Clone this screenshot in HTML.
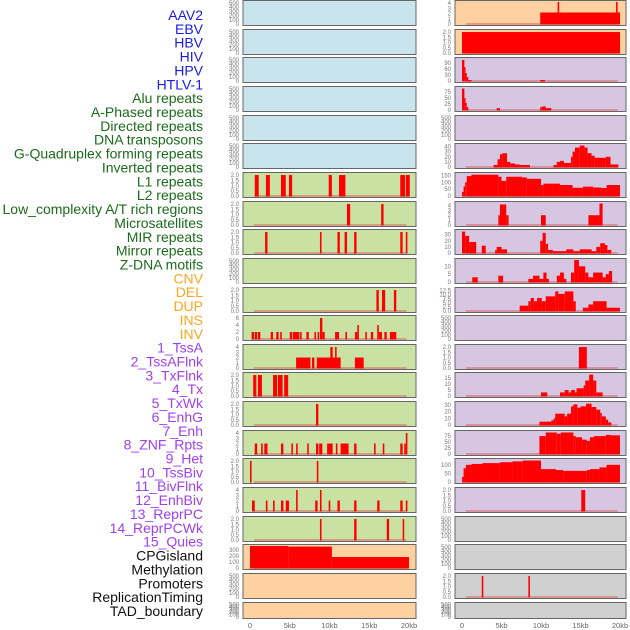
<!DOCTYPE html>
<html><head><meta charset="utf-8">
<style>
html,body{margin:0;padding:0;background:#fff;}
svg{display:block;}
.lab{font-family:"Liberation Sans",sans-serif;font-size:14px;}
.tk{font-family:"Liberation Sans",sans-serif;font-size:6px;fill:#777;}
.xt{font-family:"Liberation Sans",sans-serif;font-size:7.5px;fill:#666;}
</style></head>
<body>
<svg id="chart" width="630" height="630" viewBox="0 0 630 630" xmlns="http://www.w3.org/2000/svg"></svg>
<script>
// ---- data ----
const trackLabels = ["AAV2","EBV","HBV","HIV","HPV","HTLV-1","Alu repeats","A-Phased repeats","Directed repeats","DNA transposons","G-Quadruplex forming repeats","Inverted repeats","L1 repeats","L2 repeats","Low_complexity A/T rich regions","Microsatellites","MIR repeats","Mirror repeats","Z-DNA motifs","CNV","DEL","DUP","INS","INV","1_TssA","2_TssAFlnk","3_TxFlnk","4_Tx","5_TxWk","6_EnhG","7_Enh","8_ZNF_Rpts","9_Het","10_TssBiv","11_BivFlnk","12_EnhBiv","13_ReprPC","14_ReprPCWk","15_Quies","CPGisland","Methylation","Promoters","ReplicationTiming","TAD_boundary"];
const labelGroups = [6,13,5,15,5];
const xTickValues = [0,5,10,15,20];
const xTickLabels = ["0","5kb","10kb","15kb","20kb"];
// left column: ymax, tick values, segments [startKb,endKb,value]
const leftMax = [520,520,520,520,520,520,2.1,2.1,2.1,520,2.1,6.3,4.2,2.1,2.1,4.2,2.1,4.2,2.1,370,520,520];
const leftTicks = [
 [0,100,200,300,400,500],[0,100,200,300,400,500],[0,100,200,300,400,500],[0,100,200,300,400,500],[0,100,200,300,400,500],[0,100,200,300,400,500],
 [0,0.5,1,1.5,2],[0,0.5,1,1.5,2],[0,0.5,1,1.5,2],[0,100,200,300,400,500],[0,0.5,1,1.5,2],[0,2,4,6],[0,1,2,3,4],[0,0.5,1,1.5,2],[0,0.5,1,1.5,2],[0,1,2,3,4],[0,0.5,1,1.5,2],[0,1,2,3,4],[0,0.5,1,1.5,2],[0,100,200,300],[0,100,200,300,400,500],[0,100,200,300,400,500]];
const leftSegs = [
 [],[],[],[],[],[],
 [[0.6,1.1,2],[2.0,2.5,2],[3.9,4.5,2],[4.9,5.3,2],[9.9,10.3,2],[11.2,12.0,2],[18.9,19.5,2],[19.6,20.1,2]],
 [[12.2,12.6,2],[16.5,16.8,2]],
 [[1.9,2.2,2],[8.8,9.0,2],[11.0,11.3,2],[11.9,12.2,2],[13.1,13.4,2],[18.9,19.2,2],[19.6,19.8,2]],
 [],
 [[15.9,16.2,2],[16.6,17.0,2],[18.1,18.4,2]],
 [[0.2,0.5,2],[0.6,0.9,2],[1.0,1.3,2],[2.6,2.9,2],[3.3,3.6,2],[3.8,4.0,2],[5.0,5.3,2],[5.4,6.2,2],[6.3,6.5,2],[7.1,7.4,2],[8.1,8.3,2],[8.5,8.7,2],[8.8,9.1,6],[9.1,9.4,2],[10.7,11.2,2],[12.0,12.2,2],[13.2,13.5,2],[13.5,13.7,4],[14.5,14.7,2],[15.2,15.5,2],[16.0,16.2,4],[16.2,16.6,2],[16.9,17.2,2],[17.6,18.4,2]],
 [[5.8,7.6,2],[7.8,8.1,2],[8.4,11.4,2],[10.1,10.4,4],[10.7,10.9,4],[13.2,14.3,2]],
 [[0.4,0.8,2],[1.0,1.5,2],[2.9,3.4,2],[3.5,4.1,2],[4.3,4.8,2]],
 [[8.3,8.6,2]],
 [[0.6,0.9,2],[1.4,1.6,2],[1.8,2.2,2],[3.9,4.2,2],[5.2,5.4,2],[5.8,6.0,2],[7.2,7.4,2],[8.3,8.6,2],[8.7,9.1,2],[9.7,10.4,2],[10.8,11.0,2],[11.4,12.4,2],[13.1,13.4,2],[15.6,15.8,2],[16.7,16.9,2],[18.9,19.2,2],[19.4,19.6,2],[19.6,19.8,4]],
 [[0.0,0.2,2],[8.4,8.6,2]],
 [[0.25,0.6,2],[2.0,2.2,2],[2.9,3.1,2],[3.9,4.2,2],[4.5,4.9,2],[5.8,6.0,4],[8.2,8.5,2],[8.8,9.0,4],[9.9,10.1,2],[11.0,11.3,2],[13.1,13.4,2],[16.0,16.3,2],[18.9,19.2,2],[19.6,19.8,2]],
 [[8.8,9.0,2],[13.1,13.4,2],[17.2,17.5,2],[19.2,19.4,2]],
 [[0,4.8,370],[4.8,10.3,360],[10.3,20.0,185]],
 [],[]];
// right column
const rightMax = [4.2,2.1,110,92,520,43,160,4.5,36,14,13.5,520,2.1,18.5,33,92,128,2.1,520,520,2.1,520];
const rightTicks = [
 [0,1,2,3,4],[0,0.5,1,1.5,2],[0,30,60,90],[0,25,50,75],[0,100,200,300,400,500],[0,10,20,30,40],[0,50,100,150],[0,1,2,3,4],[0,10,20,30],[0,5,10],[0,2.5,5,7.5,10,12.5],[0,100,200,300,400,500],
 [0,0.5,1,1.5,2],[0,5,10,15],[0,10,20,30],[0,25,50,75],[0,50,100],[0,0.5,1,1.5,2],[0,100,200,300,400,500],[0,100,200,300,400,500],[0,0.5,1,1.5,2],[0,100,200,300,400,500]];
const rightSegs = [
 [[9.9,20,2.2],[12.1,12.3,4.2],[19.5,19.7,4.2]],
 [[0,20,2]],
 [[0,0.3,105],[0.3,0.4,70],[0.4,0.6,40],[0.6,0.8,20],[0.8,1.2,5],[9.9,10.5,5]],
 [[0,0.3,90],[0.3,0.4,50],[0.4,0.6,30],[0.6,0.8,12],[4.4,4.8,8],[9.9,10.1,12],[10.1,10.6,15],[10.6,11.3,8]],
 [],
 [[4.0,4.5,4],[4.5,4.8,15],[4.8,5.1,25],[5.1,5.7,27],[5.7,6.1,10],[6.1,6.7,7],[6.7,7.3,5],[7.3,8.6,4],[11.6,12.0,4],[12.0,12.4,10],[12.4,12.9,12],[12.9,13.8,8],[13.8,14.0,20],[14.0,14.3,30],[14.3,14.9,38],[14.9,15.5,42],[15.5,15.9,38],[15.9,16.4,27],[16.4,16.8,22],[16.8,18.2,18],[18.2,18.8,20],[18.8,19.8,5]],
 [[0,0.2,30],[0.2,0.4,70],[0.4,0.6,100],[0.6,1.2,145],[1.2,4.6,155],[4.6,5.0,140],[5.0,5.6,110],[5.6,7.6,140],[7.6,8.2,135],[8.2,10.0,125],[10.0,10.3,80],[10.3,12.4,90],[12.4,14.0,80],[14.0,15.3,60],[15.3,16.6,68],[16.6,17.6,62],[17.6,18.3,58],[18.3,20,80]],
 [[4.6,4.8,2],[4.8,5.6,4.2],[5.6,5.9,2],[10.0,10.6,2],[16.0,17.4,2],[17.4,17.8,4.4]],
 [[0,0.4,35],[0.4,0.9,28],[0.9,1.8,18],[2.5,3.0,12],[4.2,4.4,5],[4.4,5.0,10],[5.0,5.7,6],[9.9,10.2,20],[10.2,10.6,33],[10.6,10.9,15],[10.9,11.5,5],[11.5,13.2,3],[13.2,14.1,6],[14.1,14.9,3],[14.9,16.4,6],[16.4,17.0,3],[17.0,17.5,10],[17.5,18.1,16],[18.1,18.4,13],[18.4,18.9,5]],
 [[1.3,2.0,3],[4.6,5.2,4],[8.4,9.0,2],[9.0,9.8,4],[9.8,10.3,2],[10.3,10.7,6],[10.7,11.0,2],[12.0,12.4,4],[12.4,12.9,6],[12.9,13.2,2],[13.8,14.2,6],[14.2,14.8,14],[14.8,15.6,10],[15.6,16.0,6],[16.0,16.6,3],[16.6,17.8,6],[17.8,18.2,3],[18.2,18.6,5],[18.6,19.0,7]],
 [[7.3,8.4,3.3],[8.4,8.7,6],[8.7,9.1,8],[9.1,9.5,6],[9.5,10.1,8],[10.1,10.6,6],[10.6,11.8,9],[11.8,12.2,12],[12.2,13.0,10.5],[13.0,14.1,12],[14.1,14.4,6],[15.3,16.0,2],[16.0,16.6,4],[16.6,18.3,6],[18.3,20,2]],
 [],
 [[14.8,15.8,2]],
 [[10.0,10.8,3],[12.4,13.0,3],[13.0,13.5,5],[13.5,13.8,3],[13.8,14.3,5],[14.3,14.5,3],[14.5,15.4,6.5],[15.4,15.6,9],[15.6,16.1,13],[16.1,16.6,18],[16.6,17.0,13],[17.0,17.8,3]],
 [[9.8,11.3,5],[11.3,11.6,7],[11.6,11.8,10],[11.8,13.0,17],[13.0,13.3,13],[13.3,13.8,17],[13.8,14.1,28],[14.1,14.6,31],[14.6,15.0,26],[15.0,15.7,28],[15.7,16.4,32],[16.4,17.0,27],[17.0,17.5,23],[17.5,17.7,18],[17.7,18.2,13],[18.2,18.5,8],[18.5,18.9,4]],
 [[9.8,10.6,75],[10.6,12.0,90],[12.0,12.5,85],[12.5,14.1,90],[14.1,14.4,75],[14.4,15.2,70],[15.2,15.8,60],[15.8,16.2,55],[16.2,16.7,70],[16.7,18.2,75],[18.2,18.8,80],[18.8,20,78]],
 [[0,0.2,30],[0.2,0.5,80],[0.5,1.2,100],[1.2,2.6,105],[2.6,4.8,110],[4.8,6.4,115],[6.4,7.7,120],[7.7,10.0,125],[10.0,11.9,75],[11.9,12.8,70],[12.8,15.8,65],[15.8,16.2,70],[16.2,17.4,75],[17.4,18.3,85],[18.3,20,100]],
 [[15.1,15.6,2]],
 [],[],
 [[2.5,2.7,2],[8.4,8.6,2]],
 []];
const leftFill = ["#c9e4ec","#c9e4ec","#c9e4ec","#c9e4ec","#c9e4ec","#c9e4ec","#c9e2a4","#c9e2a4","#c9e2a4","#c9e2a4","#c9e2a4","#c9e2a4","#c9e2a4","#c9e2a4","#c9e2a4","#c9e2a4","#c9e2a4","#c9e2a4","#c9e2a4","#ffd0a0","#ffd0a0","#ffd0a0"];
const rightFill = ["#ffd0a0","#ffd0a0","#d6c6e2","#d6c6e2","#d6c6e2","#d6c6e2","#d6c6e2","#d6c6e2","#d6c6e2","#d6c6e2","#d6c6e2","#d6c6e2","#d6c6e2","#d6c6e2","#d6c6e2","#d6c6e2","#d6c6e2","#d6c6e2","#d0d0d0","#d0d0d0","#d0d0d0","#d0d0d0"];

// ---- drawing ----
const NS="http://www.w3.org/2000/svg";
const svg=document.getElementById('chart');
function mk(tag,attrs,parent){const e=document.createElementNS(NS,tag);for(const k in attrs)e.setAttribute(k,attrs[k]);(parent||svg).appendChild(e);return e;}
const groupColors=["#1a1aee","#1b6b1b","#ffa520","#a040f0","#111111"];
let li=0;
labelGroups.forEach((n,g)=>{for(let j=0;j<n;j++){
  const t=mk('text',{x:203,y:15+li*13.86+5,'text-anchor':'end',fill:groupColors[g],class:'lab'});
  
  
  t.textContent=trackLabels[li];li++;}});
const cols=[{x0:243,x1:416,p0:250,p1:409,maxs:leftMax,ticks:leftTicks,segs:leftSegs,fill:leftFill,side:'left'},
            {x0:455,x1:626,p0:462,p1:620,maxs:rightMax,ticks:rightTicks,segs:rightSegs,fill:rightFill,side:'right'}];
function fmt(v,ticks){const dec=ticks.some(t=>t%1!==0);if(!dec)return String(v);return ticks.some(t=>(t*10)%1!==0)?v.toFixed(1):v.toFixed(1);}
cols.forEach(c=>{
  const xs=kb=>c.p0+(c.p1-c.p0)*kb/20;
  for(let r=0;r<22;r++){
    const top=Math.round(r*28.65)+0.5, h=(r===21?16:25);
    const g=mk('g',{});
    
    
    const bg=mk('rect',{x:c.x0,y:top,width:c.x1-c.x0,height:h,fill:c.fill[r],stroke:'#666','stroke-width':1},g);
    
    
    const yb=top+h-1.5, yt=top+1.5, mx=c.maxs[r];
    const ys=v=>yb-(yb-yt)*v/mx;
    const segs=c.segs[r];
    if(segs.length){
      const bl=mk('line',{x1:xs(0.5),x2:xs(19.7),y1:yb,y2:yb,stroke:'#e05050','stroke-opacity':0.6,'stroke-width':1.5},g);
      
      
    }
    segs.forEach(s=>{
      const x1=xs(s[0]),x2=Math.max(xs(s[1]),x1+1.2);
      const b=mk('rect',{x:x1,y:ys(s[2]),width:x2-x1,height:yb-ys(s[2])+0.5,fill:'#ff0000'},g);
      
      
    });
    c.ticks[r].forEach(t=>{
      const tx=mk('text',{x:c.x0-4,y:ys(t)+2,'text-anchor':'end',class:'tk'},g);
      
      
      tx.textContent=fmt(t,c.ticks[r]);
    });
  }
  xTickValues.forEach((v,i)=>{
    const t=mk('text',{x:xs(v),y:628,'text-anchor':'middle',class:'xt'});
    
    
    t.textContent=xTickLabels[i];
  });
});
</script>
</body></html>
